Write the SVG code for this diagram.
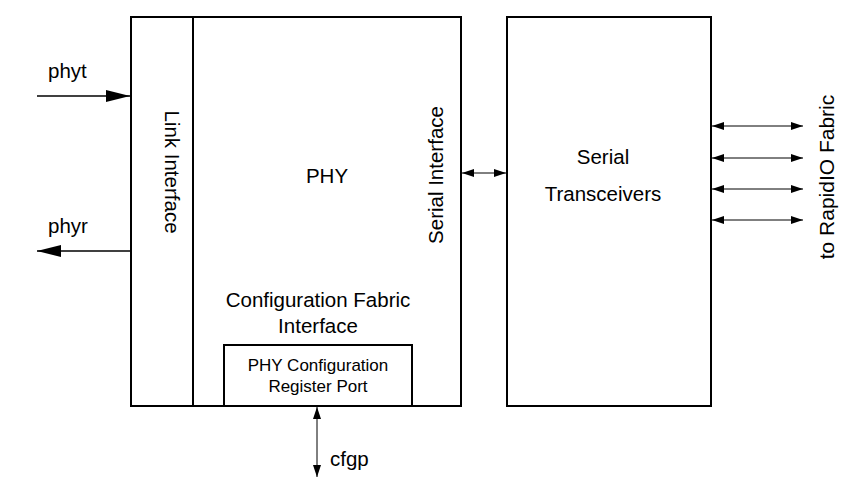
<svg xmlns="http://www.w3.org/2000/svg" width="851" height="487" viewBox="0 0 851 487">
<style>
.box{fill:#fff;stroke:#000;stroke-width:2}
.ln{stroke:#000;stroke-width:1.5;fill:none}
.thin{stroke:#000;stroke-width:1;fill:none}
text{font-family:"Liberation Sans",Arial,sans-serif;fill:#000}
.l{font-size:20.5px}
.s{font-size:17px}
</style>
<defs>
<marker id="big" viewBox="0 0 24 12" refX="24" refY="6" markerWidth="24" markerHeight="12" markerUnits="userSpaceOnUse" orient="auto-start-reverse"><path d="M0,0L24,6L0,12z" fill="#000"/></marker>
<marker id="sm" viewBox="0 0 12 8" refX="12" refY="4" markerWidth="12" markerHeight="8" markerUnits="userSpaceOnUse" orient="auto-start-reverse"><path d="M0,0L12,4L0,8z" fill="#000"/></marker>
</defs>
<g id="phy">
<rect class="box" x="131" y="17" width="330" height="389"/>
<line class="box" x1="193" y1="17" x2="193" y2="406"/>
<text class="l" x="327" y="183" text-anchor="middle">PHY</text>
<text class="l" x="318" y="307" text-anchor="middle">Configuration Fabric</text>
<text class="l" x="318" y="333" text-anchor="middle">Interface</text>
<text class="l" transform="translate(165,172) rotate(90)" text-anchor="middle">Link Interface</text>
<text class="l" transform="translate(443,175) rotate(-90)" text-anchor="middle">Serial Interface</text>
</g>
<g id="cfgport">
<rect class="box" x="224" y="345" width="188" height="61"/>
<text class="s" x="318" y="371" text-anchor="middle">PHY Configuration</text>
<text class="s" x="318" y="392" text-anchor="middle">Register Port</text>
</g>
<g id="transceivers">
<rect class="box" x="507" y="17" width="204" height="389"/>
<text class="l" x="603" y="164" text-anchor="middle">Serial</text>
<text class="l" x="603" y="201" text-anchor="middle">Transceivers</text>
</g>
<g id="connectors">
<line class="ln" x1="37" y1="96" x2="130" y2="96" marker-end="url(#big)"/>
<line class="ln" x1="130" y1="251" x2="37" y2="251" marker-end="url(#big)"/>
<line class="thin" x1="462" y1="173" x2="506" y2="173" marker-start="url(#sm)" marker-end="url(#sm)"/>
<line class="thin" x1="712" y1="126" x2="803" y2="126" marker-start="url(#sm)" marker-end="url(#sm)"/>
<line class="thin" x1="712" y1="158" x2="803" y2="158" marker-start="url(#sm)" marker-end="url(#sm)"/>
<line class="thin" x1="712" y1="189" x2="803" y2="189" marker-start="url(#sm)" marker-end="url(#sm)"/>
<line class="thin" x1="712" y1="220" x2="803" y2="220" marker-start="url(#sm)" marker-end="url(#sm)"/>
<line class="thin" x1="317" y1="407" x2="317" y2="477" marker-start="url(#sm)" marker-end="url(#sm)"/>
</g>
<g id="labels">
<text class="l" x="48" y="78">phyt</text>
<text class="l" x="48" y="233">phyr</text>
<text class="l" x="330" y="466">cfgp</text>
<text class="l" style="font-size:21px" transform="translate(834,177) rotate(-90)" text-anchor="middle">to RapidIO Fabric</text>
</g>
</svg>
